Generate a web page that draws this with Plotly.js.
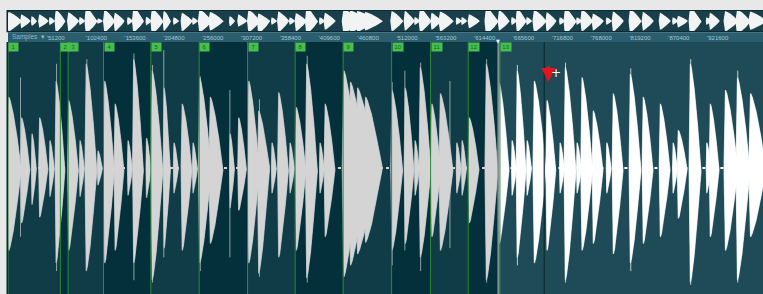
<!DOCTYPE html>
<html><head><meta charset="utf-8">
<script src="https://cdn.plot.ly/plotly-3.0.1.min.js"></script>
<style>html,body{margin:0;padding:0;background:#e8e8e8;overflow:hidden;} #chart{width:763px;height:294px;}</style>
</head><body><div id="chart"></div>
<script>
// ---- data (x in samples, amplitude in full-scale units) ----
const hitPos = [400,17500,31400,41300,55100,63000,79500,94700,102600,118400,127000,140800,158000,165200,182400,189600,205400,218600,229200,243700,252200,266100,292500,303700,316900,330000,347800,356400,371600,379500,393300,411100,417700,442100,450700,459900,470500,505700,523200,536400,543000,558400,569400,591400,598400,607600,630000,647200,664300,670900,684100,693300,710100,727600,734200,750000,756200,771100,789200,797500,819900,837000,859500,876600,883200,899000,921000,925400,945200,961000,978100];
const hitTop = [0.62,0.44,0.30,0.44,0.24,0.76,0.59,0.24,0.91,0.15,0.76,0.56,0.24,0.95,0.26,0.85,0.70,0.22,0.56,0.22,0.79,0.62,0.30,0.44,0.76,0.50,0.22,0.66,0.22,0.53,0.91,0.22,0.56,0.85,0.75,0.70,0.62,0.68,0.70,0.24,0.88,0.56,0.65,0.22,0.24,0.44,0.91,0.74,0.24,0.85,0.24,0.76,0.59,0.22,0.88,0.22,0.79,0.50,0.22,0.65,0.82,0.62,0.56,0.22,0.33,0.91,0.22,0.56,0.68,0.79,0.65];
const hitBot = [0.72,0.48,0.32,0.43,0.25,0.83,0.72,0.25,0.90,0.15,0.83,0.72,0.24,0.83,0.26,0.98,0.70,0.22,0.72,0.22,0.83,0.66,0.35,0.37,0.83,0.92,0.22,0.78,0.22,0.72,0.96,0.22,0.60,0.95,0.85,0.75,0.65,0.72,0.66,0.24,0.78,0.60,0.72,0.22,0.24,0.48,0.98,0.66,0.24,0.78,0.24,0.83,0.72,0.22,0.98,0.22,0.72,0.66,0.22,0.75,0.83,0.66,0.60,0.22,0.44,1.00,0.22,0.60,0.72,0.98,0.60];
const hitLen = [17100,11200,5900,11200,5900,11900,13200,5900,14500,5900,13200,11900,5900,13200,5900,14500,8600,5900,13200,5900,15800,17100,5900,10500,14500,14500,5900,13200,5900,13200,14500,5900,13200,19800,22400,25000,22400,14500,11900,5900,14500,11900,17100,5900,5900,13200,15800,13200,5900,11900,5900,15800,11900,5900,14500,5900,14500,13200,5900,13200,14500,13200,13200,5900,11900,14500,5900,11900,17100,17100,21100];

const spikePos = [16500,64000,104000,166000,190500,205400,253500,292500,331500,394500,506500,523200,544000,582600,631000,671500,735000,821000,900000,962000];
const spikeTop = [0.79,0.91,0.95,1.00,0.90,1.03,0.80,0.68,0.60,0.98,0.75,0.85,0.92,0.76,0.95,0.90,0.92,0.87,0.95,0.85];
const spikeBot = [0.60,0.90,0.70,0.98,1.00,0.78,0.90,0.78,0.95,1.00,0.85,0.72,0.90,0.70,1.00,0.85,1.00,0.90,1.02,1.00];

const markerPos = [0,69000,79300,125900,188300,252000,315800,378500,441800,505700,557100,606700,648500];
const markerLabels = ['1','2','3','4','5','6','7','8','9','10','11','12','13'];

const rulerTicks = [51200,102400,153600,204800,256000,307200,358400,409600,460800,512000,563200,614400,665600,716800,768000,819200,870400,921600,972800];
const rulerLabels = rulerTicks.map(v => "'" + v);

const playhead = 646500;
const cursorPos = 706900;
const totalSamples = 995300;

// ---- styling ----
const GRAY = '#d4d4d4', WHITE = '#ffffff';
const SEG_L = '#0f3c46', SEG_D = '#03303a', UNSEL = '#1e4b57';
const MAIN_TOP = 252/284, RULER_TOP = 263/284, OV_TOP = 283/284;
// outline of one hit's decay (fractions of its length / peak) - drawing style only
const SHAPE_T = [-0.07, 0.04, 0.14, 0.38, 0.68, 1];
const SHAPE_A = [0.03, 1, 0.95, 0.76, 0.42, 0.03];

function bodies(keep) {
  const xs = [], ys = [];
  hitPos.forEach((p, i) => {
    if (!keep(p)) return;
    for (let k = 0; k < SHAPE_T.length; k++) { xs.push(p + SHAPE_T[k] * hitLen[i]); ys.push(SHAPE_A[k] * hitTop[i]); }
    for (let k = SHAPE_T.length - 1; k >= 0; k--) { xs.push(p + SHAPE_T[k] * hitLen[i]); ys.push(-SHAPE_A[k] * hitBot[i]); }
    xs.push(p + SHAPE_T[0] * hitLen[i], null); ys.push(SHAPE_A[0] * hitTop[i], null);
  });
  return {xs, ys};
}
function spikes(keep) {
  const xs = [], ys = [];
  spikePos.forEach((p, i) => {
    if (!keep(p)) return;
    xs.push(p, p, null);
    ys.push(spikeTop[i], -spikeBot[i], null);
  });
  return {xs, ys};
}
const inSel = p => p < playhead, outSel = p => p >= playhead;

const traces = [];
function addWave(xa, ya, keep, color, edge, withSpikes, spikeColor) {
  const b = bodies(keep);
  if (withSpikes) {
    const s = spikes(keep);
    traces.push({x: s.xs, y: s.ys, xaxis: xa, yaxis: ya, type: 'scatter', mode: 'lines',
      line: {color: spikeColor, width: 1}, hoverinfo: 'skip'});
  }
  // soft edge, then clean fill on top so overlapping hits merge
  traces.push({x: b.xs, y: b.ys, xaxis: xa, yaxis: ya, type: 'scatter', mode: 'lines',
    fill: 'toself', fillcolor: color, line: {color: edge, width: 1.2}, hoverinfo: 'skip'});
  traces.push({x: b.xs, y: b.ys, xaxis: xa, yaxis: ya, type: 'scatter', mode: 'lines',
    fill: 'toself', fillcolor: color, line: {color: color, width: 0}, hoverinfo: 'skip'});
}
// main view
addWave('x', 'y', inSel, GRAY, 'rgba(175,190,193,0.9)', true, 'rgba(190,200,202,0.75)');
addWave('x', 'y', outSel, WHITE, 'rgba(215,226,228,0.9)', true, 'rgba(230,236,237,0.8)');
traces.push({x: [0, playhead], y: [0, 0], xaxis: 'x', yaxis: 'y', type: 'scatter', mode: 'lines',
  line: {color: GRAY, width: 2, dash: 'dot'}, hoverinfo: 'skip'});
traces.push({x: [playhead, totalSamples], y: [0, 0], xaxis: 'x', yaxis: 'y', type: 'scatter', mode: 'lines',
  line: {color: WHITE, width: 2, dash: 'dot'}, hoverinfo: 'skip'});
// overview strip
addWave('x2', 'y2', () => true, '#f2f4f4', 'rgba(242,244,244,0.9)', false);
// marker lines
const mx = [], my = [];
markerPos.forEach(p => { mx.push(p, p, null); my.push(-1.2, 1.2, null); });
traces.push({x: mx, y: my, xaxis: 'x', yaxis: 'y', type: 'scatter', mode: 'lines',
  line: {color: '#2d8a3c', width: 1}, hoverinfo: 'skip'});
// playhead and cursor lines
traces.push({x: [playhead, playhead], y: [-1.2, 1.2], xaxis: 'x', yaxis: 'y', type: 'scatter', mode: 'lines',
  line: {color: '#7f9296', width: 2}, hoverinfo: 'skip'});
traces.push({x: [cursorPos, cursorPos], y: [-1.2, 1.2], xaxis: 'x', yaxis: 'y', type: 'scatter', mode: 'lines',
  line: {color: '#0b2c33', width: 1.2}, hoverinfo: 'skip'});

// background shapes
const shapes = [
  {type: 'rect', xref: 'paper', yref: 'paper', x0: -0.002, x1: 1, y0: RULER_TOP - 0.004, y1: 1.0, fillcolor: '#0c2a31', line: {width: 0}, layer: 'below'},
  {type: 'rect', xref: 'paper', yref: 'paper', x0: 0, x1: 1, y0: RULER_TOP, y1: OV_TOP, fillcolor: '#183f4a', line: {width: 0}, layer: 'below'},
  {type: 'rect', xref: 'paper', yref: 'paper', x0: 0, x1: 1, y0: MAIN_TOP, y1: RULER_TOP - 0.004, fillcolor: '#2a5e6f', line: {width: 0}, layer: 'below'},
  {type: 'rect', xref: 'paper', yref: 'paper', x0: -0.002, x1: 1, y0: 0, y1: MAIN_TOP, fillcolor: '#0a2a31', line: {width: 0}, layer: 'below'}
];
for (let i = 0; i < markerPos.length - 1; i++) {
  shapes.push({type: 'rect', xref: 'x', yref: 'paper', x0: markerPos[i], x1: markerPos[i + 1], y0: 0, y1: MAIN_TOP,
    fillcolor: i % 2 === 0 ? SEG_L : SEG_D, line: {width: 0}, layer: 'below'});
}
shapes.push({type: 'rect', xref: 'x', yref: 'paper', x0: playhead, x1: totalSamples, y0: 0, y1: MAIN_TOP,
  fillcolor: UNSEL, line: {width: 0}, layer: 'below'});

// annotations
const annotations = markerLabels.map((t, i) => ({
  x: markerPos[i], xref: 'x', xanchor: 'left', y: MAIN_TOP, yref: 'paper', yanchor: 'top',
  text: t, showarrow: false, bgcolor: '#46bf4e', width: t.length > 1 ? 10 : 9, height: 8,
  font: {family: 'Liberation Sans, Arial, sans-serif', size: 6, color: '#1d5a22'}, borderpad: 0
}));
annotations.push({x: 0.002, xref: 'paper', xanchor: 'left', y: (294 - 36.5) / 284, yref: 'paper', yanchor: 'middle',
  text: 'Samples  ▾', showarrow: false, font: {family: 'Liberation Sans, Arial, sans-serif', size: 6.5, color: '#8fb7c7'}});
annotations.push({x: playhead, xref: 'x', xanchor: 'center', y: (294 - 41) / 284, yref: 'paper', yanchor: 'middle',
  text: '▼', showarrow: false, font: {family: 'DejaVu Sans', size: 5, color: '#ffffff'}});
annotations.push({x: 712400, xref: 'x', y: 0.75, yref: 'y', text: '', showarrow: true, ax: 0, ay: -17,
  arrowcolor: '#e8141c', arrowwidth: 3.5, arrowhead: 2, arrowsize: 0.8});
annotations.push({x: 722300, xref: 'x', y: 0.83, yref: 'y', text: '+', showarrow: false,
  font: {family: 'DejaVu Sans', size: 12, color: '#ffffff'}});

const layout = {
  width: 763, height: 294,
  margin: {l: 8, r: 0, t: 10, b: 0, pad: 0},
  paper_bgcolor: '#e8e8e8', plot_bgcolor: 'rgba(0,0,0,0)',
  showlegend: false,
  xaxis: {domain: [0, 1], range: [0, totalSamples], side: 'top', anchor: 'y',
    tickvals: rulerTicks, ticktext: rulerLabels, ticks: '', ticklabelposition: 'outside right',
    tickfont: {family: 'Liberation Sans, Arial, sans-serif', size: 6, color: '#a3c6d4'},
    showgrid: false, zeroline: false, showline: false, fixedrange: true},
  yaxis: {domain: [0, MAIN_TOP], range: [-1.1, 1.1], showticklabels: false, ticks: '',
    showgrid: false, zeroline: false, showline: false, fixedrange: true},
  xaxis2: {domain: [0, 1], range: [0, totalSamples], anchor: 'y2', showticklabels: false, ticks: '',
    showgrid: false, zeroline: false, showline: false, fixedrange: true},
  yaxis2: {domain: [RULER_TOP, OV_TOP], range: [-0.75, 0.75], anchor: 'x2', showticklabels: false, ticks: '',
    showgrid: false, zeroline: false, showline: false, fixedrange: true},
  shapes: shapes,
  annotations: annotations
};
Plotly.newPlot('chart', traces, layout, {displayModeBar: false, staticPlot: true});
</script></body></html>
